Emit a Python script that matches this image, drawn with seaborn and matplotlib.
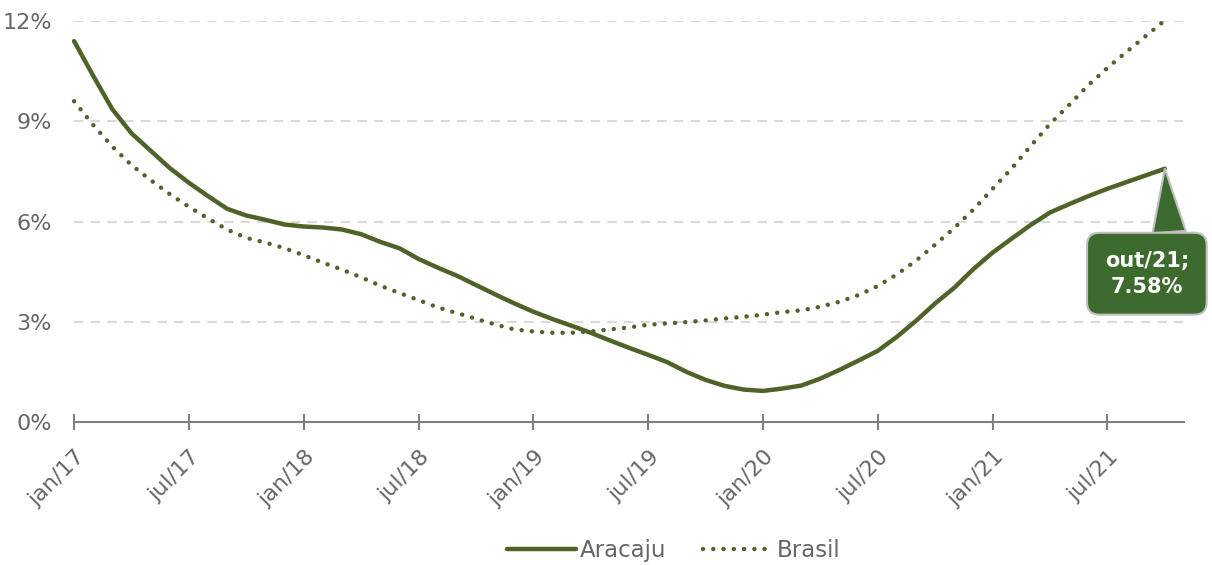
import pandas as pd
import matplotlib.pyplot as plt
import matplotlib.transforms as mtransforms
import seaborn as sns
import numpy as np

# meses (jan/17 ate out/21)
meses = ['jan', 'fev', 'mar', 'abr', 'mai', 'jun', 'jul', 'ago', 'set', 'out', 'nov', 'dez']
anos = ['17', '18', '19', '20', '21']
periodos = [f'{m}/{a}' for a in anos for m in meses][:58]

# taxas acumuladas em 12 meses (%)
aracaju = [11.40, 10.36, 9.36, 8.64, 8.12, 7.60, 7.16, 6.76, 6.38, 6.18,
           6.05, 5.91, 5.85, 5.82, 5.76, 5.62, 5.39, 5.20, 4.88, 4.62,
           4.38, 4.10, 3.82, 3.55, 3.30, 3.08, 2.88, 2.67, 2.44, 2.22,
           2.01, 1.79, 1.50, 1.26, 1.08, 0.97, 0.93, 1.00, 1.09, 1.30,
           1.56, 1.84, 2.13, 2.55, 3.03, 3.55, 4.02, 4.58, 5.07, 5.49,
           5.90, 6.27, 6.52, 6.76, 6.98, 7.18, 7.38, 7.58]
brasil = [9.60, 8.89, 8.24, 7.69, 7.24, 6.82, 6.44, 6.09, 5.76, 5.51,
          5.37, 5.20, 4.99, 4.77, 4.56, 4.33, 4.08, 3.86, 3.65, 3.43,
          3.26, 3.09, 2.92, 2.77, 2.71, 2.67, 2.67, 2.71, 2.77, 2.83,
          2.91, 2.95, 2.99, 3.04, 3.10, 3.15, 3.21, 3.29, 3.34, 3.45,
          3.60, 3.80, 4.07, 4.42, 4.83, 5.31, 5.81, 6.36, 6.98, 7.59,
          8.27, 8.92, 9.49, 10.08, 10.60, 11.08, 11.55, 12.02]
y_ticks = [0, 3, 6, 9, 12]

verde_linha = '#4F6228'
verde_caixa = '#3D6A2D'
cinza_texto = '#666666'
cinza_eixo = '#808080'

df = pd.DataFrame({'mes': np.arange(len(periodos)), 'periodo': periodos,
                   'Aracaju': aracaju, 'Brasil': brasil})

sns.set_theme(style='white')
plt.rcParams['font.family'] = ['DejaVu Sans']

fig = plt.figure(figsize=(12.12, 5.65), dpi=100)
ax = fig.add_axes([0.0611, 0.2531, 0.9158, 0.7097])

sns.lineplot(data=df, x='mes', y='Aracaju', ax=ax, color=verde_linha, linewidth=3.2,
             label='Aracaju', clip_on=False, solid_capstyle='round', zorder=3)
sns.lineplot(data=df, x='mes', y='Brasil', ax=ax, color=verde_linha, linewidth=3.2,
             linestyle=(0, (0.01, 2.3)), dash_capstyle='round',
             label='Brasil', clip_on=False, zorder=3)

ax.set_xlim(0, len(periodos))
ax.set_ylim(0, 12)
ax.set_yticks(y_ticks)
ax.set_yticklabels([f'{v}%' for v in y_ticks])
ax.set_xticks(df['mes'][::6])
ax.set_xticklabels(df['periodo'][::6], rotation=45, ha='right', va='center',
                   rotation_mode='anchor')
ax.set_xlabel('')
ax.set_ylabel('')

ax.yaxis.grid(True, color='#D9D9D9', linestyle=(0, (4.5, 3.5)), linewidth=1.5)
ax.xaxis.grid(False)
ax.set_axisbelow(True)

for s in ['top', 'right', 'left']:
    ax.spines[s].set_visible(False)
ax.spines['bottom'].set_color(cinza_eixo)
ax.spines['bottom'].set_linewidth(1.5)

ax.tick_params(axis='x', direction='inout', length=11.5, width=1.5, color=cinza_eixo,
               labelsize=16, labelcolor=cinza_texto, pad=15, bottom=True)
ax.tick_params(axis='y', length=0, labelsize=16, labelcolor=cinza_texto, pad=16)

# empurra os rotulos do eixo x um pouco para a direita/baixo (depois do tick_params)
desloc = mtransforms.ScaledTranslation(8 / 100, -3 / 100, fig.dpi_scale_trans)
for lbl in ax.get_xticklabels():
    lbl.set_transform(lbl.get_transform() + desloc)

ax.annotate(f'{periodos[-1]};\n{aracaju[-1]:.2f}%', xy=(df['mes'].iloc[-1], aracaju[-1]),
            xytext=(-18, -105), textcoords='offset pixels', ha='center', va='center',
            fontsize=15, fontweight='bold', color='white', linespacing=1.4,
            bbox=dict(boxstyle='round,pad=0.85,rounding_size=0.6', fc=verde_caixa,
                      ec='#BFBFBF', lw=1.5),
            arrowprops=dict(arrowstyle='wedge,tail_width=1.6,shrink_factor=0.5',
                            fc=verde_caixa, ec='#BFBFBF', lw=1.5, relpos=(0.78, 1.0),
                            shrinkA=0, shrinkB=0),
            annotation_clip=False, zorder=5)

ax.legend(loc='center', bbox_to_anchor=(0.5557, 0.0265), bbox_transform=fig.transFigure,
          ncol=2, frameon=False, fontsize=16.5, handlelength=3.0, handletextpad=0.2,
          columnspacing=1.6, labelcolor=cinza_texto)

fig.savefig('out.png', dpi=100)
